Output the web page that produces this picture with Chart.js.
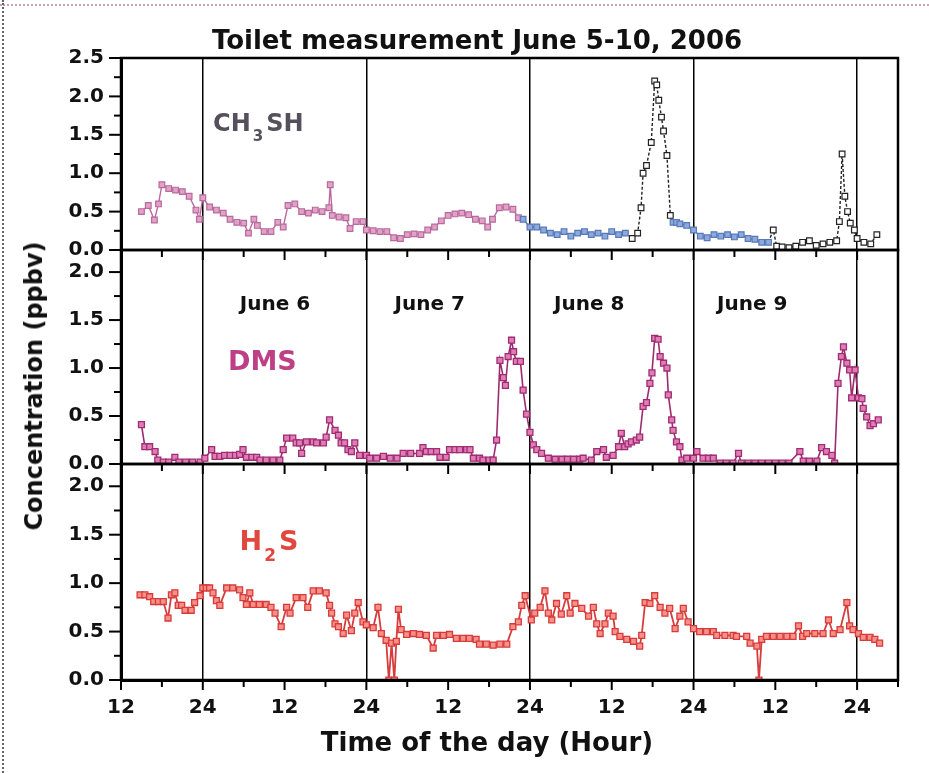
<!DOCTYPE html>
<html>
<head>
<meta charset="utf-8">
<title>Toilet measurement June 5-10, 2006</title>
<script src="https://cdn.jsdelivr.net/npm/chart.js@4.4.0/dist/chart.umd.min.js"></script>
<style>
  html, body { margin: 0; padding: 0; background: #fff; }
  #wrap { position: relative; width: 929px; height: 773px; overflow: hidden; background: #fff; }
  #chart { position: absolute; left: 0; top: 0; }
  .label { position: absolute; font: bold 26px "DejaVu Sans", sans-serif; color: #111; white-space: nowrap;
           transform: translate(-50%, -50%); }
  #title { left: 477px; top: 40px; }
  #xtitle { left: 487px; top: 742px; }
  #ytitle { left: 34px; top: 386px; font-size: 24px; transform: translate(-50%, -50%) rotate(-90deg); }
  .edge-top { position: absolute; left: 0; top: 4px; width: 929px; border-top: 2px dotted #c9a4b8; }
  .edge-left { position: absolute; left: 2px; top: 0; height: 773px; border-left: 2px dotted #666; }
</style>
</head>
<body>
<div id="wrap">
  <div class="edge-top"></div>
  <div class="edge-left"></div>
  <canvas id="chart" width="929" height="773"></canvas>
  <div id="title" class="label">Toilet measurement June 5-10, 2006</div>
  <div id="xtitle" class="label">Time of the day (Hour)</div>
  <div id="ytitle" class="label">Concentration (ppbv)</div>
</div>
<script>
// -----------------------------------------------------------
// DATA  (hour counted from midnight of June 5; 24 = midnight)
// -----------------------------------------------------------

const hourTicks = [12, 18, 24, 30, 36, 42, 48, 54, 60, 66, 72, 78, 84, 90, 96, 102, 108, 114, 120, 126];
const chTicks = [0, 0.25, 0.5, 0.75, 1.0, 1.25, 1.5, 1.75, 2.0, 2.25, 2.5];
const lowTicks = [0, 0.25, 0.5, 0.75, 1.0, 1.25, 1.5, 1.75, 2.0];

const ch3shHours = [15, 16, 16.9, 17.5, 18, 19, 20, 21, 22, 23, 23.5, 24, 25, 26, 27, 28, 29, 30, 30.7, 31.5,
  32, 33, 34, 35, 35.8, 36.5, 37.5, 38.5, 39.5, 40.5, 41.5, 42.5, 42.7, 43, 44, 45, 45.6, 46.5, 47.5, 48,
  49, 50, 51, 52, 53, 54, 55, 56, 57, 58, 59, 60, 61, 62, 63, 64, 65, 65.8, 66.5, 67.5,
  68.5, 69.5, 70.3, 71, 72, 73, 74, 75, 76, 77, 78, 79, 80, 81, 82, 83, 84, 85, 86, 87,
  87.8, 88.3, 88.6, 89.1, 89.8, 90.3, 90.6, 90.9, 91.3, 91.6, 92.1, 92.6, 93, 93.5, 94, 95, 96, 97, 98, 99,
  100, 101, 102, 103, 104, 105, 106, 107, 107.7, 108.2, 109, 110, 111, 112, 113, 114, 115, 116, 117, 117.4,
  117.8, 118.2, 118.6, 119, 119.6, 120, 121, 122, 122.9];
const ch3shValues = [0.50, 0.58, 0.39, 0.60, 0.85, 0.80, 0.78, 0.76, 0.70, 0.52, 0.40, 0.68, 0.56, 0.52, 0.48, 0.40, 0.36, 0.35, 0.22, 0.40,
  0.32, 0.24, 0.24, 0.36, 0.30, 0.58, 0.60, 0.50, 0.48, 0.52, 0.50, 0.55, 0.85, 0.45, 0.43, 0.42, 0.28, 0.37, 0.37, 0.26,
  0.25, 0.24, 0.24, 0.16, 0.15, 0.20, 0.21, 0.20, 0.26, 0.30, 0.38, 0.45, 0.47, 0.48, 0.46, 0.40, 0.38, 0.30, 0.40, 0.55,
  0.56, 0.53, 0.42, 0.40, 0.30, 0.30, 0.26, 0.22, 0.20, 0.24, 0.18, 0.22, 0.24, 0.20, 0.22, 0.18, 0.24, 0.20, 0.22, 0.15,
  0.22, 0.55, 1.00, 1.10, 1.40, 2.20, 2.15, 1.95, 1.73, 1.55, 1.23, 0.45, 0.36, 0.36, 0.34, 0.32, 0.26, 0.18, 0.16, 0.20,
  0.18, 0.20, 0.17, 0.20, 0.15, 0.14, 0.10, 0.10, 0.26, 0.05, 0.04, 0.03, 0.05, 0.10, 0.12, 0.06, 0.08, 0.10, 0.12, 0.37,
  1.25, 0.70, 0.50, 0.35, 0.26, 0.15, 0.10, 0.08, 0.20];

const dmsHours = [15, 15.5, 16.2, 17, 17.4, 18.2, 19, 19.9, 20.5, 21.5, 22.5, 23.6, 24.3, 25.3, 25.8, 26.5, 27.2, 28, 28.8, 29.4,
  29.9, 30.4, 31.2, 31.9, 32.4, 33.3, 34.3, 35.3, 35.8, 36.3, 37.2, 37.7, 38.2, 38.5, 39.2, 40.2, 40.7, 41.7, 42.1, 42.6,
  43.4, 43.9, 44.3, 44.8, 45.3, 45.8, 46.3, 47, 48, 48.5, 49.5, 50.5, 51.5, 52.5, 53.4, 54.5, 55.8, 56.3, 56.8, 57.5,
  58.3, 58.8, 59.7, 60.2, 61, 61.7, 62.7, 63.2, 63.7, 64.6, 65.1, 66, 66.6, 67.1, 67.6, 68.1, 68.4, 68.8, 69.3, 69.6,
  70, 70.6, 71, 71.5, 72, 72.5, 73, 73.7, 74.7, 75.7, 76.7, 77.5, 78.4, 79.3, 79.8, 81, 81.8, 82.8, 83.2, 84.2,
  85, 85.4, 85.9, 86.4, 86.9, 87.6, 88.1, 88.6, 89.1, 89.6, 89.9, 90.3, 90.8, 91.1, 91.6, 92.1, 92.3, 92.8, 93, 93.5,
  94, 94.3, 95, 96, 96.5, 97.4, 98.2, 98.9, 99.9, 100.8, 101.8, 102.6, 103, 104, 105, 106, 107, 108, 109, 110,
  111.6, 112.1, 113, 114.1, 114.8, 115.5, 116.3, 116.7, 117.2, 117.7, 118, 118.5, 118.9, 119.2, 119.7, 120.2, 120.7, 120.9, 121.4, 121.9,
  122.4, 123.1];
const dmsValues = [0.41, 0.18, 0.18, 0.13, 0.04, 0.02, 0.02, 0.07, 0.02, 0.02, 0.02, 0.02, 0.06, 0.15, 0.08, 0.08, 0.09, 0.09, 0.09, 0.10,
  0.15, 0.07, 0.07, 0.07, 0.04, 0.04, 0.04, 0.04, 0.15, 0.27, 0.27, 0.22, 0.22, 0.11, 0.23, 0.23, 0.22, 0.22, 0.28, 0.46,
  0.35, 0.30, 0.22, 0.22, 0.15, 0.13, 0.22, 0.09, 0.09, 0.06, 0.06, 0.08, 0.06, 0.06, 0.11, 0.11, 0.11, 0.17, 0.13, 0.13,
  0.13, 0.07, 0.07, 0.15, 0.15, 0.15, 0.15, 0.15, 0.06, 0.06, 0.04, 0.04, 0.04, 0.25, 1.08, 0.90, 0.82, 1.12, 1.29, 1.17,
  1.07, 1.07, 0.77, 0.52, 0.33, 0.20, 0.15, 0.11, 0.06, 0.05, 0.05, 0.05, 0.05, 0.05, 0.06, 0.04, 0.13, 0.15, 0.07, 0.09,
  0.18, 0.32, 0.18, 0.21, 0.23, 0.25, 0.28, 0.60, 0.64, 0.84, 0.95, 1.31, 1.30, 1.12, 1.05, 1.00, 0.72, 0.46, 0.35, 0.23,
  0.18, 0.04, 0.06, 0.06, 0.13, 0.06, 0.06, 0.06, 0.01, 0.01, 0.01, 0.11, 0.01, 0.01, 0.01, 0.01, 0.01, 0.01, 0.01, 0.01,
  0.13, 0.03, 0.03, 0.03, 0.17, 0.13, 0.09, 0.01, 0.84, 1.12, 1.22, 1.05, 0.98, 0.69, 0.98, 0.69, 0.68, 0.58, 0.49, 0.40,
  0.42, 0.46];

const h2sHours = [14.8, 15.5, 16.2, 16.8, 17.5, 18.2, 18.9, 19.4, 19.9, 20.4, 20.9, 21.4, 22.3, 22.8, 23.6, 24, 24.5, 25, 25.5, 26,
  26.5, 27.5, 28.4, 29.4, 29.9, 30.4, 30.9, 31.4, 32.3, 33.3, 34, 34.6, 35.5, 36.3, 36.8, 37.7, 38.7, 39.4, 40.2, 41.1,
  42.1, 42.6, 42.9, 43.4, 43.9, 44.6, 45.1, 45.8, 46.3, 46.8, 47.5, 48, 49, 49.7, 50.2, 50.9, 51.3, 51.7, 52.1, 52.4,
  52.7, 53.1, 53.9, 54.9, 55.8, 56.8, 57.8, 58.3, 59.3, 60.2, 61.2, 62.2, 63.1, 64.1, 64.6, 65.6, 66.6, 67.6, 68.6, 69.5,
  70.3, 70.8, 71.3, 72.2, 72.7, 73.5, 74.2, 74.7, 75.2, 75.9, 76.6, 77.4, 77.9, 78.6, 79.6, 80.6, 81.3, 81.8, 82.3, 83,
  83.5, 84.2, 84.5, 85.2, 86.2, 87.2, 88.1, 88.4, 88.9, 89.6, 90.3, 91.1, 91.8, 92.5, 93.3, 94, 94.5, 95.2, 96, 96.9,
  97.9, 98.9, 99.4, 100.6, 101.8, 102.3, 103.8, 104.3, 105.3, 105.6, 106, 106.7, 107.7, 108.7, 109.7, 110.6, 111.4, 112, 112.6, 113.8,
  115, 115.8, 116.5, 117.5, 118.5, 118.9, 119.4, 120.2, 120.9, 121.9, 122.6, 123.3];
const h2sValues = [0.88, 0.88, 0.86, 0.81, 0.81, 0.81, 0.64, 0.88, 0.90, 0.77, 0.77, 0.72, 0.72, 0.80, 0.87, 0.95, 0.95, 0.95, 0.90, 0.82,
  0.77, 0.95, 0.95, 0.93, 0.85, 0.78, 0.90, 0.78, 0.78, 0.78, 0.75, 0.69, 0.55, 0.75, 0.69, 0.85, 0.85, 0.75, 0.92, 0.92,
  0.90, 0.77, 0.69, 0.58, 0.55, 0.48, 0.67, 0.51, 0.69, 0.80, 0.60, 0.57, 0.54, 0.75, 0.48, 0.41, 0.00, 0.38, 0.00, 0.40,
  0.73, 0.52, 0.47, 0.48, 0.47, 0.46, 0.33, 0.46, 0.46, 0.47, 0.43, 0.43, 0.43, 0.42, 0.37, 0.37, 0.36, 0.37, 0.37, 0.55,
  0.60, 0.77, 0.87, 0.62, 0.69, 0.75, 0.92, 0.69, 0.62, 0.79, 0.68, 0.87, 0.69, 0.79, 0.74, 0.66, 0.75, 0.58, 0.48, 0.58,
  0.69, 0.66, 0.50, 0.45, 0.42, 0.40, 0.35, 0.46, 0.80, 0.79, 0.87, 0.75, 0.69, 0.74, 0.53, 0.66, 0.74, 0.60, 0.53, 0.50,
  0.50, 0.50, 0.46, 0.46, 0.46, 0.45, 0.45, 0.38, 0.35, 0.00, 0.42, 0.45, 0.45, 0.45, 0.45, 0.45, 0.56, 0.45, 0.48, 0.48,
  0.48, 0.62, 0.48, 0.52, 0.80, 0.56, 0.52, 0.48, 0.44, 0.44, 0.42, 0.38];

// -----------------------------------------------------------
// STYLE
// -----------------------------------------------------------

const FONT = '"DejaVu Sans", sans-serif';
const INK = '#111';

function toPoints(hrs, vals) {
  return hrs.map((h, i) => ({ x: h, y: vals[i] }));
}

// CH3SH: pink trace early in the week, blue later, thin dashed black
// with open squares through the large spikes and the late low readings
function chMode(h) {
  if ((h >= 87 && h <= 92.7) || h >= 107.5) return 'peak';
  return h < 70.5 ? 'pink' : 'blue';
}
const chFill = { pink: '#e2a2c8', blue: '#8eaadc', peak: '#ffffff' };
const chEdge = { pink: '#b86a9c', blue: '#5678b8', peak: '#222222' };

function majorTick(v) {
  return Math.round(v * 100) % 50 === 0;
}

function yScale(weight, stackWeight, max, tickList) {
  return {
    type: 'linear',
    position: 'left',
    stack: 'panels',
    stackWeight: stackWeight,
    weight: weight,
    min: 0,
    max: max,
    afterBuildTicks: s => { s.ticks = tickList.map(v => ({ value: v })); },
    afterFit: s => { s.width = 121; },
    ticks: {
      autoSkip: false,
      padding: 17,
      color: INK,
      font: { family: FONT, size: 20, weight: 'bold' },
      callback: v => majorTick(v) ? v.toFixed(1) : ''
    },
    grid: { drawOnChartArea: false, drawTicks: false },
    border: { display: true, color: '#000', width: 3 }
  };
}

// -----------------------------------------------------------
// PLUGINS: panel frames + tick marks, in-panel labels
// -----------------------------------------------------------

const panelFrame = {
  id: 'panelFrame',
  afterDraw(chart) {
    const { ctx, chartArea: a, scales } = chart;
    const xs = scales.x;
    ctx.save();
    ctx.strokeStyle = '#000';
    ['yCH', 'yDMS', 'yH2S'].forEach(id => {
      const s = scales[id];
      ctx.lineWidth = 2.5;
      ctx.strokeRect(a.left, s.top, a.right - a.left, s.bottom - s.top);

      ctx.lineWidth = 2;
      s.ticks.forEach(t => {
        const y = s.getPixelForValue(t.value);
        ctx.beginPath();
        ctx.moveTo(a.left, y);
        ctx.lineTo(a.left - (majorTick(t.value) ? 12 : 7), y);
        ctx.stroke();
      });
      xs.ticks.forEach(t => {
        const px = xs.getPixelForValue(t.value);
        ctx.beginPath();
        ctx.moveTo(px, s.bottom);
        ctx.lineTo(px, s.bottom + (t.value % 12 === 0 ? 10 : 7));
        ctx.stroke();
      });
    });
    ctx.restore();
  }
};

function drawFormula(ctx, parts, x, y, size) {
  let cx = x;
  parts.forEach(([txt, sub]) => {
    ctx.font = `bold ${sub ? Math.round(size * 0.62) : size}px ${FONT}`;
    ctx.fillText(txt, cx, sub ? y + size * 0.5 : y);
    cx += ctx.measureText(txt).width + (sub ? 3 : 2);
  });
}

const panelLabels = {
  id: 'panelLabels',
  afterDraw(chart) {
    const { ctx, scales } = chart;
    const xs = scales.x;
    ctx.save();
    ctx.textBaseline = 'middle';

    ctx.fillStyle = INK;
    ctx.textAlign = 'center';
    ctx.font = `bold 20px ${FONT}`;
    [['June 6', 34.6], ['June 7', 57.3], ['June 8', 80.7], ['June 9', 104.6]].forEach(([t, h]) => {
      ctx.fillText(t, xs.getPixelForValue(h), scales.yDMS.getPixelForValue(1.66));
    });

    ctx.textAlign = 'left';
    ctx.fillStyle = '#55505c';
    drawFormula(ctx, [['CH', false], ['3', true], ['SH', false]],
      xs.getPixelForValue(25.5), scales.yCH.getPixelForValue(1.63), 24);

    ctx.fillStyle = '#bd3f86';
    ctx.font = `bold 27px ${FONT}`;
    ctx.fillText('DMS', xs.getPixelForValue(27.7), scales.yDMS.getPixelForValue(1.05));

    ctx.fillStyle = '#e0473f';
    drawFormula(ctx, [['H', false], ['2', true], ['S', false]],
      xs.getPixelForValue(29.4), scales.yH2S.getPixelForValue(1.41), 27);

    ctx.restore();
  }
};

// -----------------------------------------------------------
// CHART
// -----------------------------------------------------------

new Chart(document.getElementById('chart'), {
  type: 'line',
  data: {
    datasets: [
      {
        label: 'CH3SH',
        yAxisID: 'yCH',
        data: toPoints(ch3shHours, ch3shValues),
        borderWidth: 1.4,
        pointStyle: 'rect',
        pointRadius: 4,
        pointBorderWidth: 1.2,
        pointBackgroundColor: c => chFill[chMode(c.parsed ? c.parsed.x : 0)],
        pointBorderColor: c => chEdge[chMode(c.parsed ? c.parsed.x : 0)],
        borderColor: '#b86a9c',
        segment: {
          borderColor: c => chEdge[chMode(c.p1.parsed.x)],
          borderDash: c => chMode(c.p1.parsed.x) === 'peak' ? [3, 2] : undefined
        }
      },
      {
        label: 'DMS',
        yAxisID: 'yDMS',
        data: toPoints(dmsHours, dmsValues),
        borderColor: '#9c2c6e',
        borderWidth: 1.6,
        pointStyle: 'rect',
        pointRadius: 4.2,
        pointBorderWidth: 1.3,
        pointBackgroundColor: '#e07db6',
        pointBorderColor: '#a02c72'
      },
      {
        label: 'H2S',
        yAxisID: 'yH2S',
        data: toPoints(h2sHours, h2sValues),
        borderColor: '#d63c3c',
        borderWidth: 1.8,
        pointStyle: 'rect',
        pointRadius: 4.2,
        pointBorderWidth: 1.3,
        pointBackgroundColor: '#f69088',
        pointBorderColor: '#d83a3a'
      }
    ]
  },
  options: {
    responsive: false,
    animation: false,
    layout: { padding: { left: 0, right: 31, top: 58, bottom: 0 } },
    plugins: {
      legend: { display: false },
      tooltip: { enabled: false }
    },
    scales: {
      x: {
        type: 'linear',
        min: 12,
        max: 126,
        afterBuildTicks: s => { s.ticks = hourTicks.map(v => ({ value: v })); },
        afterFit: s => { s.height = 93; },
        ticks: {
          autoSkip: false,
          maxRotation: 0,
          padding: 16,
          color: INK,
          font: { family: FONT, size: 20, weight: 'bold' },
          callback: v => v % 24 === 0 ? '24' : (v % 12 === 0 ? '12' : '')
        },
        grid: {
          drawTicks: false,
          lineWidth: 1.5,
          color: c => (c.tick && c.tick.value % 24 === 0 && c.tick.value > 12 && c.tick.value < 126)
            ? '#000' : 'rgba(0,0,0,0)'
        },
        border: { display: true, color: '#000', width: 3 }
      },
      yCH: yScale(3, 192, 2.5, chTicks),
      yDMS: yScale(2, 214, 2.23, lowTicks),
      yH2S: yScale(1, 216, 2.23, lowTicks)
    }
  },
  plugins: [panelFrame, panelLabels]
});
</script>
</body>
</html>
